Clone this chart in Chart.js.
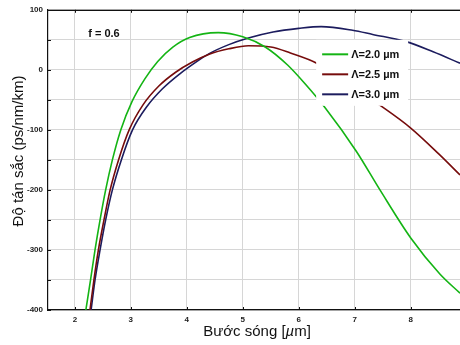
<!DOCTYPE html>
<html>
<head>
<meta charset="utf-8">
<script src="https://cdn.jsdelivr.net/npm/chart.js@4"></script>
<style>
html,body{margin:0;padding:0;background:#fff;}
#c{display:block;}
</style>
</head>
<body>
<canvas id="c" width="460" height="345"></canvas>
<script>
// ---- data ----
const seriesLabels = ['Λ=2.0 µm', 'Λ=2.5 µm', 'Λ=3.0 µm'];
const xTicks = [2, 3, 4, 5, 6, 7, 8];

const x20 = [2.196, 2.28, 2.36, 2.45, 2.55, 2.67, 2.82, 3.02, 3.25, 3.48, 3.75, 4.05, 4.56, 5.00, 5.40, 5.80, 6.10, 6.46, 7.03, 7.45, 8.00, 8.52, 8.88];
const y20 = [-400, -350, -300, -250, -200, -150, -100, -53, -15, 14, 38, 54, 62, 55, 38, 8, -22, -62, -136, -200, -280, -340, -372];

const x25 = [2.27, 2.34, 2.42, 2.52, 2.63, 2.78, 2.97, 3.22, 3.50, 3.80, 4.10, 4.40, 4.75, 5.10, 5.50, 5.85, 6.32, 6.90, 7.48, 8.00, 8.50, 8.88];
const y25 = [-400, -350, -300, -250, -200, -150, -100, -58, -27, -4, 13, 26, 35, 40, 38, 28, 11, -25, -61, -97, -140, -175];

const x30 = [2.29, 2.36, 2.45, 2.55, 2.67, 2.83, 3.03, 3.28, 3.56, 3.87, 4.15, 4.40, 4.75, 5.10, 5.54, 6.00, 6.40, 6.96, 7.32, 7.92, 8.40, 8.88];
const y30 = [-400, -350, -300, -250, -200, -150, -100, -62, -32, -7, 12, 27, 42, 53, 63, 69, 72, 66, 59, 47, 30, 11];

const colors = ['#14b414', '#760c0c', '#1c1c5e'];

function pts(xs, ys) { return xs.map((x, i) => ({ x: x, y: ys[i] })); }

const overlay = {
  id: 'overlay',
  afterDatasetsDraw(chart) {
    const ctx = chart.ctx;
    const a = chart.chartArea;
    const xs = chart.scales.x, ys = chart.scales.y;
    ctx.save();
    // frame top line
    ctx.strokeStyle = '#111';
    ctx.lineWidth = 1.2;
    ctx.beginPath();
    ctx.moveTo(a.left, a.top + 0.5); ctx.lineTo(a.right, a.top + 0.5);
    ctx.stroke();
    // inward tick marks
    ctx.lineWidth = 1;
    ctx.beginPath();
    xTicks.forEach(v => {
      const px = Math.round(xs.getPixelForValue(v)) + 0.5;
      ctx.moveTo(px, a.bottom); ctx.lineTo(px, a.bottom - 3);
      ctx.moveTo(px, a.top); ctx.lineTo(px, a.top + 3);
    });
    for (let v = -400; v <= 100; v += 50) {
      const py = Math.round(ys.getPixelForValue(v)) + 0.5;
      ctx.moveTo(a.left, py); ctx.lineTo(a.left + 3, py);
    }
    ctx.stroke();

    // legend box
    const bx = xs.getPixelForValue(6.31), by = ys.getPixelForValue(50);
    ctx.fillStyle = '#fff';
    ctx.fillRect(bx, by, 92, 66);
    const rows = [52.5, 72.5, 92.5];
    ctx.font = 'bold 11px "Liberation Sans", Arial, sans-serif';
    ctx.textBaseline = 'middle';
    ctx.textAlign = 'left';
    seriesLabels.forEach((lab, i) => {
      const ry = by + (rows[i] - 38);
      ctx.strokeStyle = colors[i];
      ctx.lineWidth = 2;
      ctx.beginPath();
      ctx.moveTo(bx + 6, ry); ctx.lineTo(bx + 32, ry);
      ctx.stroke();
      ctx.fillStyle = '#111';
      ctx.fillText(lab, bx + 35, ry + 0.5);
    });

    // annotation
    ctx.font = 'bold 11px "Liberation Sans", Arial, sans-serif';
    ctx.textAlign = 'center';
    ctx.fillStyle = '#111';
    ctx.fillText('f = 0.6', xs.getPixelForValue(2.52), ys.getPixelForValue(59));

    // x title with italic mu
    ctx.textBaseline = 'middle';
    ctx.textAlign = 'left';
    const f1 = '15px "Liberation Sans", Arial, sans-serif';
    const f2 = 'italic 15px "Liberation Sans", Arial, sans-serif';
    const parts = [['Bước sóng [', f1], ['µ', f2], ['m]', f1]];
    let total = 0;
    parts.forEach(p => { ctx.font = p[1]; total += ctx.measureText(p[0]).width; });
    let cx = 257 - total / 2;
    parts.forEach(p => { ctx.font = p[1]; ctx.fillText(p[0], cx, 332); cx += ctx.measureText(p[0]).width; });

    // y title
    ctx.save();
    ctx.translate(19, 151);
    ctx.rotate(-Math.PI / 2);
    ctx.textAlign = 'center';
    ctx.font = f1;
    ctx.fillText('Độ tán sắc (ps/nm/km)', 0, 0);
    ctx.restore();
    ctx.restore();
  }
};

new Chart(document.getElementById('c'), {
  type: 'line',
  data: {
    datasets: [
      { label: seriesLabels[0], data: pts(x20, y20), borderColor: colors[0] },
      { label: seriesLabels[1], data: pts(x25, y25), borderColor: colors[1] },
      { label: seriesLabels[2], data: pts(x30, y30), borderColor: colors[2] }
    ].map(d => Object.assign(d, { borderWidth: 1.6, pointRadius: 0, fill: false, cubicInterpolationMode: 'monotone' }))
  },
  options: {
    responsive: false,
    devicePixelRatio: 1,
    animation: false,
    layout: { padding: { top: 9, right: 0, left: 0, bottom: 0 } },
    plugins: { legend: { display: false }, tooltip: { enabled: false } },
    scales: {
      x: {
        type: 'linear',
        min: 1.52, max: 8.88,
        afterBuildTicks(s) { s.ticks = xTicks.map(v => ({ value: v })); },
        afterFit(s) { s.height = 35; },
        grid: { color: '#d6d6d6', lineWidth: 1, drawTicks: false },
        border: { color: '#111', width: 1.2 },
        ticks: { padding: 5, color: '#222', font: { size: 8, weight: 'bold', family: '"Liberation Sans", Arial, sans-serif' }, maxRotation: 0 }
      },
      y: {
        min: -400, max: 100,
        afterBuildTicks(s) { const t = []; for (let v = -400; v <= 100; v += 50) t.push({ value: v }); s.ticks = t; },
        afterFit(s) { s.width = 48; },
        grid: { color: '#d6d6d6', lineWidth: 1, drawTicks: false },
        border: { color: '#111', width: 1.2 },
        ticks: {
          padding: 5, color: '#222',
          font: { size: 8, weight: 'bold', family: '"Liberation Sans", Arial, sans-serif' },
          callback: v => (v % 100 === 0 ? String(v) : '')
        }
      }
    }
  },
  plugins: [overlay]
});
</script>
</body>
</html>
